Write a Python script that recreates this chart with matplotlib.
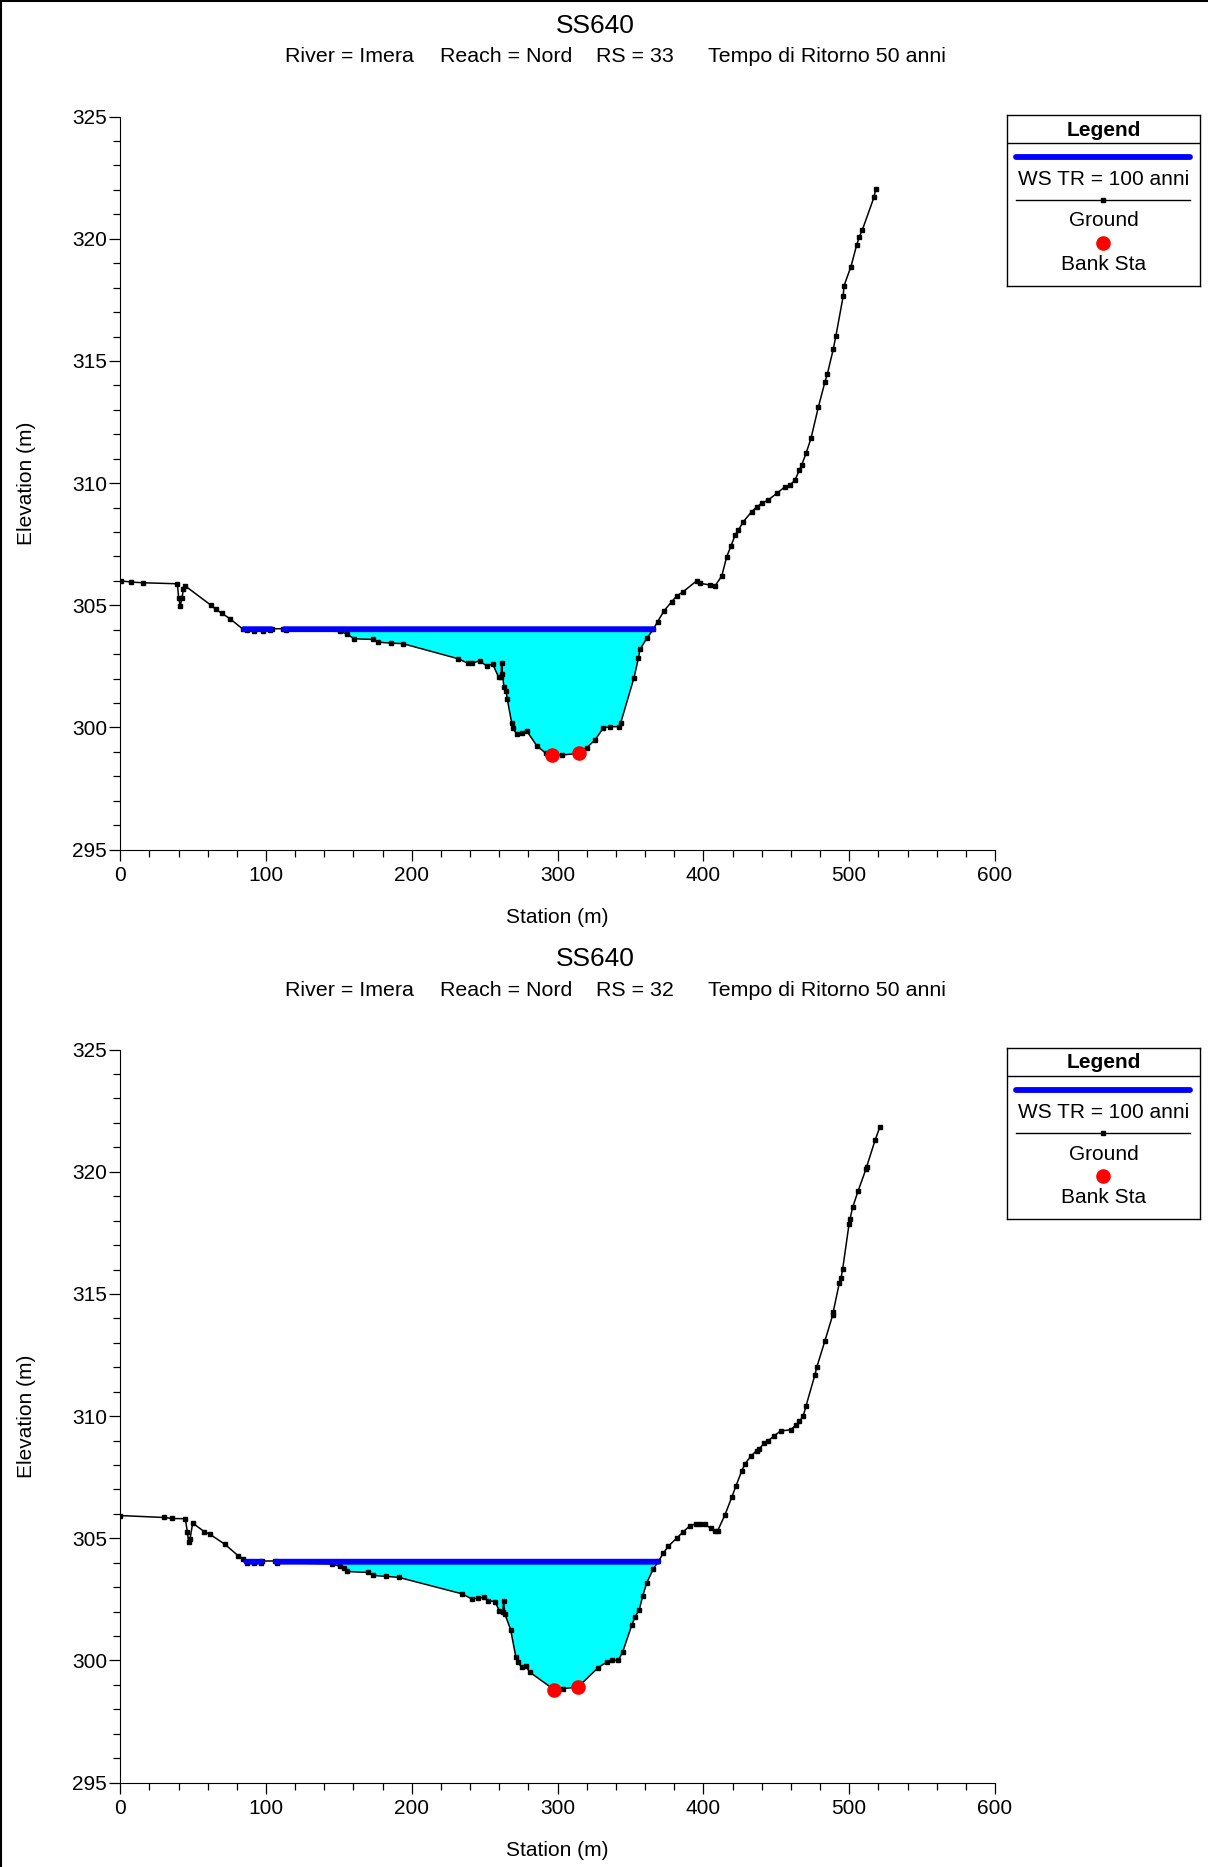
import numpy as np
import matplotlib
matplotlib.use("Agg")
import matplotlib.pyplot as plt
from matplotlib.ticker import MultipleLocator
from matplotlib.lines import Line2D

plt.rcParams['font.family'] = ['Liberation Sans', 'DejaVu Sans']

# ---------------------------------------------------------
# dati (sezioni RS 33 e RS 32)
# ---------------------------------------------------------
sta_33 = [0.3, 7.4, 15.9, 39.2, 40.1, 41.2, 42.4, 43.3, 44.4, 62.3, 65.7, 69.8, 75.5,
          84.0, 87.0, 92.0, 98.2, 102.5, 104.0, 112.0, 113.5, 150.8, 155.8, 160.4,
          173.6, 177.0, 185.5, 193.8, 231.9, 238.3, 241.0, 246.8, 251.4, 255.5, 259.6,
          261.3, 261.6, 262.2, 263.2, 264.6, 265.5, 268.5, 269.6, 271.9, 275.4, 278.8,
          285.7, 292.0, 296.0, 302.8, 314.7, 319.9, 325.6, 331.4, 336.0, 342.3, 343.3,
          352.4, 355.4, 356.5, 361.1, 365.6, 368.6, 373.1, 378.3, 381.7, 385.8, 395.4,
          397.7, 404.5, 408.0, 412.6, 416.0, 418.9, 421.7, 424.0, 427.4, 433.1, 436.6,
          440.0, 444.5, 450.3, 456.0, 459.4, 462.8, 465.8, 467.4, 470.4, 473.8, 478.8,
          483.4, 485.0, 489.1, 490.9, 495.9, 496.4, 501.2, 505.1, 506.9, 509.0, 517.0,
          518.2]
elev_33 = [306.0, 305.95, 305.92, 305.88, 305.31, 304.97, 305.3, 305.65, 305.8, 305.0,
           304.83, 304.67, 304.44, 304.03, 303.99, 303.96, 303.93, 303.98, 304.04,
           304.04, 303.99, 303.93, 303.81, 303.63, 303.6, 303.49, 303.45, 303.43,
           302.81, 302.63, 302.64, 302.72, 302.51, 302.59, 302.05, 302.05, 302.65,
           302.2, 301.64, 301.5, 301.15, 300.19, 299.96, 299.72, 299.78, 299.86,
           299.25, 298.94, 298.87, 298.87, 298.94, 299.17, 299.48, 299.98, 300.03,
           300.03, 300.19, 302.03, 302.83, 303.19, 303.64, 304.01, 304.33, 304.78,
           305.15, 305.38, 305.54, 306.0, 305.9, 305.83, 305.79, 306.2, 306.99,
           307.42, 307.87, 308.08, 308.42, 308.83, 309.03, 309.17, 309.31, 309.58,
           309.85, 309.92, 310.12, 310.53, 310.74, 311.22, 311.83, 313.1, 314.15,
           314.46, 315.49, 316.03, 317.66, 318.07, 318.86, 319.74, 320.08, 320.36,
           321.70, 322.04]
ws_33 = 304.02
bank_sta_33 = [296.0, 314.7]
bank_elev_33 = [298.87, 298.94]

sta_32 = [0.0, 30.2, 35.7, 44.7, 46.0, 47.0, 47.9, 49.7, 57.7, 61.6, 71.9, 81.0, 84.4,
          87.2, 92.0, 96.5, 97.5, 106.5, 107.5, 145.1, 150.8, 153.5, 155.4, 170.2,
          173.4, 182.3, 191.0, 234.2, 241.1, 245.6, 249.7, 252.5, 257.1, 260.0, 262.5,
          262.9, 263.8, 267.8, 271.3, 272.6, 275.4, 278.1, 281.1, 297.7, 303.9, 314.0,
          327.9, 333.7, 337.1, 341.6, 344.6, 350.8, 353.1, 356.0, 358.3, 361.1, 365.6,
          369.1, 372.5, 375.9, 382.1, 386.0, 390.5, 395.0, 398.0, 401.1, 405.0, 408.0,
          409.8, 414.8, 419.4, 422.4, 426.3, 428.5, 432.4, 436.5, 438.0, 441.8, 444.5,
          448.4, 453.0, 459.9, 463.5, 465.8, 468.5, 470.4, 476.5, 477.7, 483.4, 488.7,
          489.1, 493.2, 494.4, 495.5, 499.9, 500.5, 502.4, 506.2, 511.5, 512.0, 517.7,
          521.1]
elev_32 = [305.93, 305.85, 305.81, 305.80, 305.27, 304.84, 304.97, 305.62, 305.27,
           305.16, 304.75, 304.28, 304.16, 303.99, 303.97, 303.99, 304.07, 304.07,
           304.0, 303.95, 303.85, 303.78, 303.64, 303.6, 303.48, 303.44, 303.40,
           302.73, 302.52, 302.55, 302.58, 302.44, 302.41, 302.03, 302.0, 302.45,
           301.9, 301.26, 300.16, 299.92, 299.73, 299.76, 299.51, 298.80, 298.85,
           298.91, 299.71, 299.93, 300.0, 300.0, 300.34, 301.43, 301.78, 302.07,
           302.62, 303.17, 303.74, 304.05, 304.39, 304.67, 305.03, 305.25, 305.5,
           305.6, 305.6, 305.58, 305.4, 305.31, 305.31, 305.96, 306.67, 307.15,
           307.76, 308.04, 308.35, 308.59, 308.65, 308.89, 308.99, 309.19, 309.39,
           309.44, 309.64, 309.78, 310.01, 310.42, 311.69, 311.99, 313.09, 314.14,
           314.28, 315.44, 315.65, 316.01, 317.86, 318.06, 318.55, 319.23, 320.11,
           320.21, 321.28, 321.85]
ws_32 = 304.04
bank_sta_32 = [297.7, 314.0]
bank_elev_32 = [298.80, 298.91]

W, H = 1208, 1867
OFF = 933.0  # distanza verticale (px) tra i due pannelli

fig = plt.figure(figsize=(W / 100, H / 100), dpi=100)


def px_box(x0, y0, x1, y1):
    """rettangolo in pixel (da sinistra/alto) -> coordinate figura"""
    return [x0 / W, 1 - y1 / H, (x1 - x0) / W, (y1 - y0) / H]


def draw_panel(off, rs, sta, elev, ws, bank_sta, bank_elev):
    # titoli
    fig.text(595 / W, 1 - (26 + off) / H, 'SS640', ha='center', va='center', fontsize=19)
    y_sub = 1 - (57 + off) / H
    for xp, txt in [(285, 'River = Imera'), (440, 'Reach = Nord'),
                    (596, 'RS = %d' % rs), (708, 'Tempo di Ritorno 50 anni')]:
        fig.text(xp / W, y_sub, txt, ha='left', va='center', fontsize=15.4)

    ax = fig.add_axes(px_box(120.2, 116.6 + off, 995, 849.6 + off))
    sta = np.asarray(sta)
    elev = np.asarray(elev)

    # superficie libera e area bagnata
    xs = np.linspace(sta[0], sta[-1], 6000)
    gs = np.interp(xs, sta, elev)
    wet = gs < ws
    ax.fill_between(xs, gs, ws, where=wet, interpolate=True, color='#00FFFF',
                    linewidth=0, zorder=1)
    ax.plot(sta, elev, color='black', lw=1.1, marker='s', ms=3.0, zorder=3)
    ax.plot(xs, np.where(wet, ws, np.nan), color='#0000FF', lw=4.2,
            solid_capstyle='round', zorder=4)
    ax.plot(bank_sta, bank_elev, 'o', color='#FF0000', ms=9.5, zorder=5)

    ax.set_xlim(0, 600)
    ax.set_ylim(295, 325)
    ax.xaxis.set_major_locator(MultipleLocator(100))
    ax.xaxis.set_minor_locator(MultipleLocator(20))
    ax.yaxis.set_major_locator(MultipleLocator(5))
    ax.yaxis.set_minor_locator(MultipleLocator(1))
    ax.tick_params(which='major', length=8, width=0.9, labelsize=15, pad=1.5)
    ax.tick_params(axis='x', which='major', pad=3.5)
    ax.tick_params(which='minor', length=5, width=0.9)
    ax.spines['top'].set_visible(False)
    ax.spines['right'].set_visible(False)
    ax.set_xlabel('Station (m)', fontsize=15)
    ax.set_ylabel('Elevation (m)', fontsize=15)
    ax.xaxis.set_label_coords(0.5, -0.079)
    ax.yaxis.set_label_coords(-0.096, 0.5)

    # legenda disegnata a mano come nel programma originale
    lg = fig.add_axes(px_box(1007, 115 + off, 1200, 286 + off))
    lg.set_xlim(0, 193)
    lg.set_ylim(171, 0)
    lg.set_xticks([])
    lg.set_yticks([])
    for s in lg.spines.values():
        s.set_linewidth(1.0)
    lg.text(97, 15, 'Legend', ha='center', va='center', fontsize=15, fontweight='bold')
    lg.plot([0, 193], [28, 28], color='black', lw=1.0)
    lg.plot([9, 183], [42, 42], color='#0000FF', lw=4.2, solid_capstyle='round')
    lg.text(97, 64, 'WS TR = 100 anni', ha='center', va='center', fontsize=15)
    lg.plot([9, 183], [85, 85], color='black', lw=1.0)
    lg.plot([96], [85], 's', color='black', ms=2.5)
    lg.text(97, 106, 'Ground', ha='center', va='center', fontsize=15)
    lg.plot([96], [128], 'o', color='#FF0000', ms=9.5)
    lg.text(97, 149, 'Bank Sta', ha='center', va='center', fontsize=15)


draw_panel(0, 33, sta_33, elev_33, ws_33, bank_sta_33, bank_elev_33)
draw_panel(OFF, 32, sta_32, elev_32, ws_32, bank_sta_32, bank_elev_32)

# cornice della finestra
fig.add_artist(Line2D([0.0008, 0.0008], [0, 1], color='black', lw=1.5, transform=fig.transFigure))
fig.add_artist(Line2D([0, 1], [0.9995, 0.9995], color='black', lw=1.5, transform=fig.transFigure))

fig.savefig('out.png', dpi=100)
